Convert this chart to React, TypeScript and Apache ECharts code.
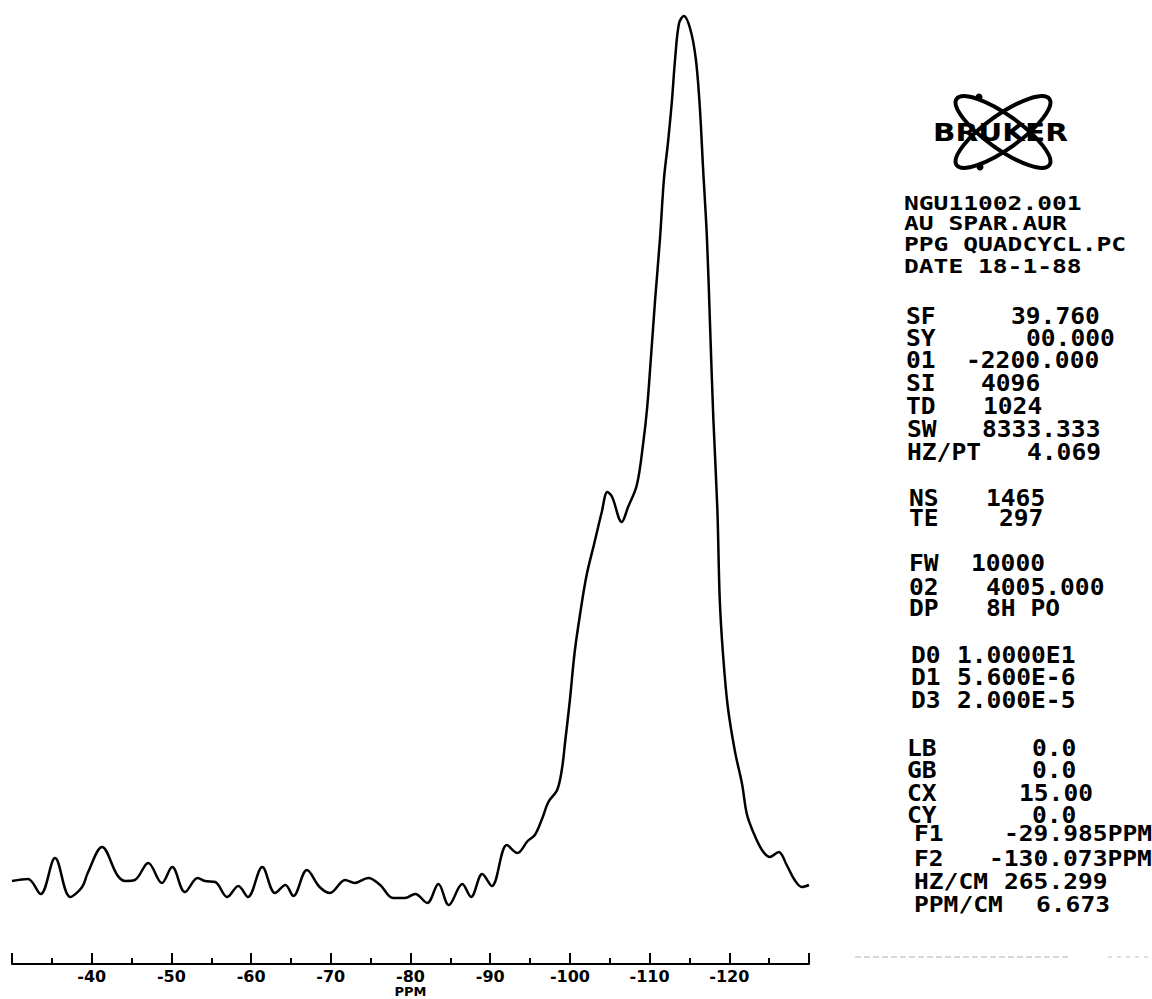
import React, { useEffect, useRef } from 'react';
import * as echarts from 'echarts';

// Chemical shift (ppm) and relative intensity (arbitrary units, baseline ~ 0)
const PPM = [
  -30.0, -32.0, -33.6, -35.4, -37.3, -38.8, -39.5, -41.3, -43.2, -44.2,
  -45.4, -47.1, -48.8, -50.1, -51.7, -53.3, -54.2, -55.5, -57.0, -58.4,
  -59.6, -61.4, -63.0, -64.3, -65.3, -67.0, -68.6, -69.9, -71.8, -73.0,
  -74.7, -76.2, -77.8, -79.3, -80.6, -82.1, -83.5, -84.8, -86.5, -87.6,
  -89.0, -90.2, -92.1, -93.4, -94.7, -95.6, -96.5, -97.3, -98.4, -99.0,
  -99.4, -100.0, -100.6, -101.3, -102.1, -103.1, -104.0, -104.7, -105.3, -106.5,
  -107.3, -108.4, -109.2, -109.7, -110.1, -110.7, -111.3, -111.8, -112.3, -112.8,
  -113.2, -113.7, -114.3, -115.1, -115.8, -116.3, -116.7, -117.2, -117.6, -118.0,
  -118.5, -118.8, -119.2, -119.8, -120.7, -121.6, -122.2, -123.0, -124.1, -125.1,
  -126.2, -127.2, -128.2, -129.1, -130.0,
];
const INTENSITY = [
  -1, 1, -14, 22, -17, -7, 7, 33, 5, -1,
  0, 17, -3, 13, -12, 2, -1, -2, -17, -6,
  -17, 13, -13, -5, -16, 10, -7, -13, 0, -3,
  2, -5, -18, -18, -14, -23, -4, -25, -4, -17,
  6, -6, 35, 27, 39, 45, 61, 78, 90, 111,
  138, 180, 228, 267, 305, 338, 368, 388, 383, 358,
  373, 395, 437, 473, 515, 581, 641, 701, 737, 779,
  821, 857, 864, 851, 821, 773, 713, 641, 551, 461,
  371, 281, 227, 174, 129, 96, 66, 48, 30, 23,
  28, 15, 0, -7, -5,
];

// Axis
const AXIS_MIN = -130;
const AXIS_MAX = -30;
const AXIS_STEP = 10;
const AXIS_NAME = 'PPM';
const HIDDEN_TICK_LABELS = [-30, -130];

// Parameter panel text
const LOGO_TEXT = 'BRUKER';
const HEADER_LINES = ['NGU11002.001', 'AU SPAR.AUR', 'PPG QUADCYCL.PC', 'DATE 18-1-88'];
const PARAM_LABELS = [
  'SF', 'SY', '01', 'SI', 'TD', 'SW', 'HZ/PT',
  'NS', 'TE',
  'FW', '02', 'DP',
  'D0', 'D1', 'D3',
  'LB', 'GB', 'CX', 'CY', 'F1', 'F2', 'HZ/CM', 'PPM/CM',
];
const PARAM_VALUES = [
  '39.760', '00.000', '-2200.000', '4096', '1024', '8333.333', '4.069',
  '1465', '297',
  '10000', '4005.000', '8H PO',
  '1.0000E1', '5.600E-6', '2.000E-5',
  '0.0', '0.0', '15.00', '0.0', '-29.985PPM', '-130.073PPM', '265.299', '6.673',
];

// Layout of the panel (pixels)
const W = 1152;
const H = 999;
const HEADER_X = 904;
const HEADER_Y = [203, 223, 244, 266];
const PARAM_Y = [316, 338, 360, 383, 406, 429, 452, 498, 518, 563, 587, 608, 655, 677, 700, 748, 770, 793, 815, 834, 859, 882, 905];
const LABEL_X = [906, 906, 906, 906, 906, 907, 907, 909, 909, 909, 909, 909, 911, 911, 911, 907, 907, 907, 907, 914, 914, 914, 914];
const VALUE_X = [1011, 1026, 966, 981, 983, 982, 1027, 986, 999, 971, 986, 986, 957, 957, 957, 1032, 1032, 1019, 1032, 1004, 989, 1004, 1036];

const MONO_FONT = 'bold 24.6px "DejaVu Sans Mono", monospace';

function monoText(text: string, x: number, y: number, scaleY: number) {
  return {
    type: 'text',
    x,
    y,
    scaleY,
    silent: true,
    style: {
      text,
      font: MONO_FONT,
      fill: '#000000',
      textAlign: 'left',
      textVerticalAlign: 'middle',
      align: 'left',
      verticalAlign: 'middle',
    },
  };
}

export default function App() {
  const ref = useRef<HTMLDivElement>(null);

  useEffect(() => {
    if (!ref.current) return;
    const chart = echarts.init(ref.current, null, { renderer: 'svg', width: W, height: H });

    const data = PPM.map((p, i) => [p, INTENSITY[i]]);

    const graphic: any[] = [];
    // Logo
    graphic.push({
      type: 'text',
      x: 933,
      y: 132,
      scaleY: 0.84,
      silent: true,
      style: {
        text: LOGO_TEXT,
        font: 'bold 29.5px "DejaVu Sans", sans-serif',
        fill: '#000000',
        textAlign: 'left',
        textVerticalAlign: 'middle',
        align: 'left',
        verticalAlign: 'middle',
      },
    });
    [0.62, -0.62].forEach((r) => {
      graphic.push({
        type: 'ellipse',
        x: 1003,
        y: 132,
        rotation: r,
        silent: true,
        shape: { cx: 0, cy: 0, rx: 57, ry: 17 },
        style: { fill: 'transparent', stroke: '#000000', lineWidth: 4 },
      });
    });
    graphic.push({ type: 'circle', shape: { cx: 979, cy: 97, r: 3.5 }, style: { fill: '#000' }, silent: true });
    graphic.push({ type: 'circle', shape: { cx: 980, cy: 167, r: 3.5 }, style: { fill: '#000' }, silent: true });

    HEADER_LINES.forEach((t, i) => graphic.push(monoText(t, HEADER_X, HEADER_Y[i], 0.8)));
    PARAM_LABELS.forEach((lab, i) => {
      const sy = i >= 19 ? 0.86 : 0.95;
      graphic.push(monoText(lab, LABEL_X[i], PARAM_Y[i], sy));
      graphic.push(monoText(PARAM_VALUES[i], VALUE_X[i], PARAM_Y[i], sy));
    });

    // faint dashed rule at bottom right
    graphic.push({
      type: 'line',
      silent: true,
      shape: { x1: 855, y1: 957, x2: 1070, y2: 957 },
      style: { stroke: '#b0b0b0', lineWidth: 1, lineDash: [6, 3] },
    });
    graphic.push({
      type: 'line',
      silent: true,
      shape: { x1: 1108, y1: 957, x2: 1152, y2: 957 },
      style: { stroke: '#c0c0c0', lineWidth: 1, lineDash: [4, 5] },
    });

    const option: any = {
      animation: false,
      backgroundColor: '#ffffff',
      grid: { left: 12, right: 343, top: 10, bottom: 35, containLabel: false, outerBoundsMode: 'none' },
      xAxis: {
        type: 'value',
        inverse: true,
        min: AXIS_MIN,
        max: AXIS_MAX,
        interval: AXIS_STEP,
        axisLine: { onZero: false, lineStyle: { color: '#000000', width: 2 } },
        axisTick: { inside: true, length: 11, lineStyle: { color: '#000000', width: 2 } },
        minorTick: { show: true, splitNumber: 2, length: 6, lineStyle: { color: '#000000', width: 2 } },
        splitLine: { show: false },
        minorSplitLine: { show: false },
        axisLabel: {
          margin: 4,
          color: '#000000',
          fontFamily: '"DejaVu Sans", sans-serif',
          fontWeight: 'bold',
          fontSize: 16,
          showMinLabel: false,
          showMaxLabel: false,
          formatter: (v: number) => (HIDDEN_TICK_LABELS.includes(Math.round(v)) ? '' : String(v)),
        },
        name: AXIS_NAME,
        nameLocation: 'middle',
        nameGap: 21,
        nameMoveOverlap: false,
        nameTextStyle: {
          color: '#000000',
          fontFamily: '"DejaVu Sans", sans-serif',
          fontWeight: 'bold',
          fontSize: 13,
        },
      },
      yAxis: { type: 'value', min: -84, max: 870, show: false },
      series: [
        {
          type: 'line',
          data,
          showSymbol: false,
          smooth: 0.35,
          clip: false,
          silent: true,
          lineStyle: { color: '#000000', width: 2.5 },
        },
      ],
      graphic,
    };

    chart.setOption(option);
    return () => chart.dispose();
  }, []);

  return (
    <div
      ref={ref}
      style={{ position: 'fixed', left: 0, top: 0, width: W, height: H, background: '#ffffff' }}
    />
  );
}
